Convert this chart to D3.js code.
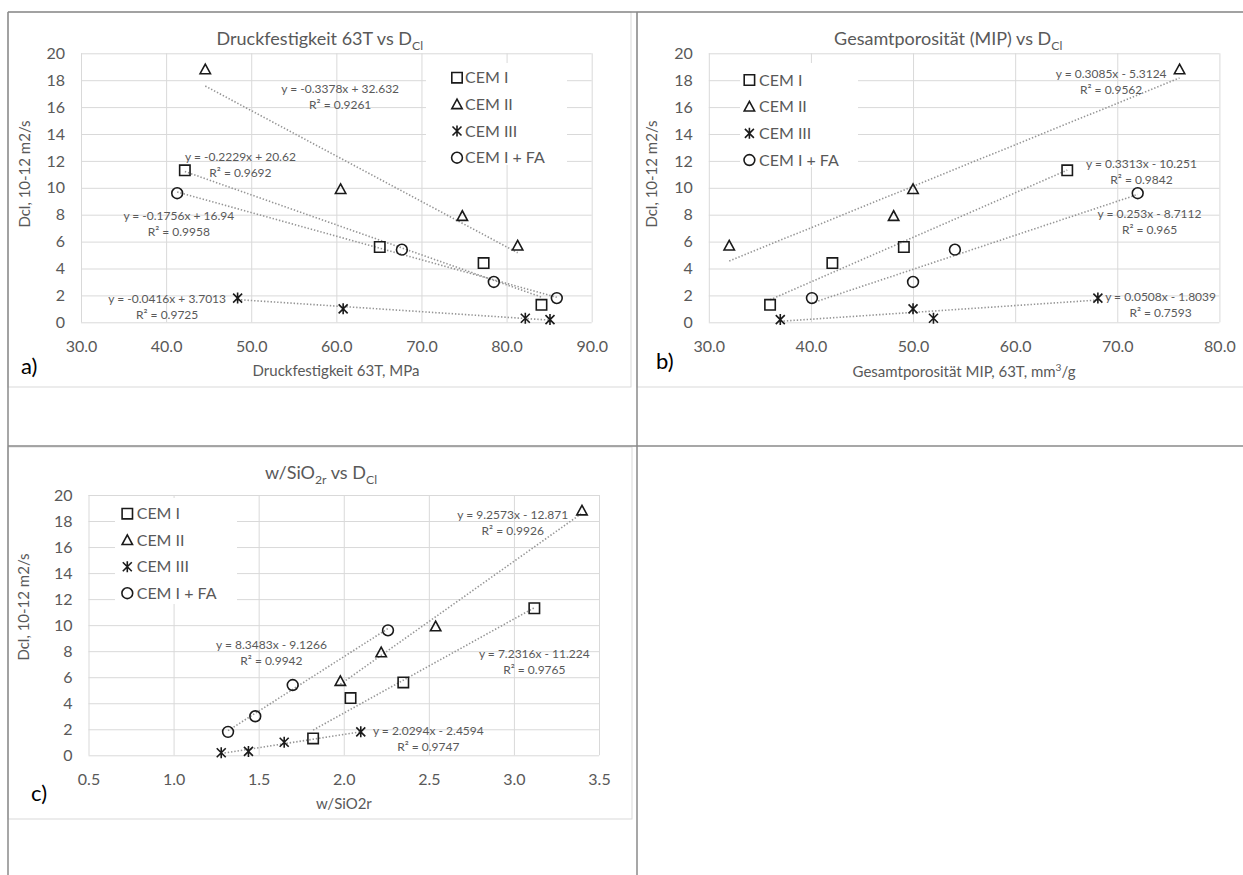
<!DOCTYPE html>
<html>
<head>
<meta charset="utf-8">
<script src="https://cdn.jsdelivr.net/npm/d3@7"></script>
<style>
  html, body { margin: 0; padding: 0; background: #fff; }
  svg { display: block; font-family: Lato, "Open Sans", sans-serif; }
</style>
</head>
<body>
<svg id="fig" width="1243" height="875"></svg>
<script>
// Series (cement types) and their marker shapes
const seriesNames = ["CEM I", "CEM II", "CEM III", "CEM I + FA"];
const seriesMarkers = ["square", "triangle", "star", "circle"];

// Chloride diffusion coefficient Dcl, 10^-12 m2/s
const dclCemI   = [11.3, 5.6, 4.4, 1.3];
const dclCemII  = [18.8, 9.9, 7.9, 5.7];
const dclCemIII = [1.8, 1.0, 0.3, 0.2];
const dclCemIFA = [9.6, 5.4, 3.0, 1.8];

// Compressive strength after 63 days, MPa
const strengthCemI   = [42.2, 65.1, 77.3, 84.1];
const strengthCemII  = [44.6, 60.5, 74.8, 81.3];
const strengthCemIII = [48.4, 60.8, 82.2, 85.1];
const strengthCemIFA = [41.3, 67.7, 78.5, 85.9];

// Total porosity (MIP) after 63 days, mm3/g
const porosityCemI   = [65.1, 49.1, 42.1, 36.0];
const porosityCemII  = [76.1, 50.0, 48.1, 32.0];
const porosityCemIII = [68.1, 50.0, 52.0, 37.0];
const porosityCemIFA = [72.0, 54.1, 50.0, 40.1];

// w/SiO2r ratio
const wSiCemI   = [3.12, 2.35, 2.04, 1.82];
const wSiCemII  = [3.40, 2.54, 2.22, 1.98];
const wSiCemIII = [2.10, 1.65, 1.44, 1.28];
const wSiCemIFA = [2.26, 1.70, 1.48, 1.32];

// Linear trend lines per series: slope, intercept, R²
const strengthSlopes     = [-0.2229, -0.3378, -0.0416, -0.1756];
const strengthIntercepts = [20.62, 32.632, 3.7013, 16.94];
const strengthR2         = [0.9692, 0.9261, 0.9725, 0.9958];
const porositySlopes     = [0.3313, 0.3085, 0.0508, 0.253];
const porosityIntercepts = [-10.251, -5.3124, -1.8039, -8.7112];
const porosityR2         = [0.9842, 0.9562, 0.7593, 0.965];
const wSiSlopes          = [7.2316, 9.2573, 2.0294, 8.3483];
const wSiIntercepts      = [-11.224, -12.871, -2.4594, -9.1266];
const wSiR2              = [0.9765, 0.9926, 0.9747, 0.9942];

// Axis ticks
const dclTicks      = [0, 2, 4, 6, 8, 10, 12, 14, 16, 18, 20];
const strengthTicks = [30, 40, 50, 60, 70, 80, 90];
const porosityTicks = [30, 40, 50, 60, 70, 80];
const wSiTicks      = [0.5, 1.0, 1.5, 2.0, 2.5, 3.0, 3.5];

const dclSeries = [dclCemI, dclCemII, dclCemIII, dclCemIFA];

const TEXT = "#595959";
const GRID = "#d9d9d9";
const TREND = "#959595";
const MARK = "#1a1a1a";

const panels = [
  {
    tag: "a)", tagPos: [21, 374],
    box: [8, 12, 623, 375],
    plot: { l: 81, r: 591.7, t: 53.3, b: 322.3 },
    xDomain: [30, 90], xTicks: strengthTicks,
    xs: [strengthCemI, strengthCemII, strengthCemIII, strengthCemIFA],
    slopes: strengthSlopes, intercepts: strengthIntercepts, r2: strengthR2,
    eqAt: [[48.73, 12.31], [60.45, 17.35], [40.12, 1.78], [41.49, 7.90]],
    title: [["Druckfestigkeit 63T vs D"], ["Cl", "sub"]], titlePos: [319.8, 39],
    xTitle: [["Druckfestigkeit 63T, MPa"]], xTitlePos: [336, 371],
    yTitlePos: [24.5, 174],
    legend: { x: 426, y: 63, w: 141, h: 102, mx: 457, tx: 465, y0: 77.7, dy: 26.67 }
  },
  {
    tag: "b)", tagPos: [656, 369],
    box: [637, 12, 640, 375],
    plot: { l: 708.8, r: 1219.4, t: 53.3, b: 322.3 },
    xDomain: [30, 80], xTicks: porosityTicks,
    xs: [porosityCemI, porosityCemII, porosityCemIII, porosityCemIFA],
    slopes: porositySlopes, intercepts: porosityIntercepts, r2: porosityR2,
    eqAt: [[72.37, 11.82], [69.40, 18.51], [74.24, 1.90], [73.16, 8.10]],
    title: [["Gesamtporosität (MIP) vs D"], ["Cl", "sub"]], titlePos: [948.2, 39.3],
    xTitle: [["Gesamtporosität MIP, 63T, mm"], ["3", "sup"], ["/g"]], xTitlePos: [964, 371.7],
    yTitlePos: [651.5, 174],
    legend: { x: 740, y: 63, w: 118, h: 104, mx: 749.4, tx: 759, y0: 80, dy: 26.67 }
  },
  {
    tag: "c)", tagPos: [31, 801],
    box: [8, 447, 624, 372],
    plot: { l: 88.5, r: 599, t: 495, b: 755.3 },
    xDomain: [0.5, 3.5], xTicks: wSiTicks,
    xs: [wSiCemI, wSiCemII, wSiCemIII, wSiCemIFA],
    slopes: wSiSlopes, intercepts: wSiIntercepts, r2: wSiR2,
    eqAt: [[3.12, 7.77], [2.993, 18.48], [2.497, 1.92], [1.575, 8.46]],
    title: [["w/SiO"], ["2r", "sub"], [" vs D"], ["Cl", "sub"]], titlePos: [321, 473.3],
    xTitle: [["w/SiO2r"]], xTitlePos: [343.9, 804.3],
    yTitlePos: [23.7, 607],
    legend: { x: 115, y: 498, w: 122, h: 106, mx: 127.3, tx: 136.7, y0: 513.7, dy: 26.5 }
  }
];

const svg = d3.select("#fig");

// Marker outlines centred on (0,0)
function markerPath(type) {
  switch (type) {
    case "square":   return "M-5.2,-5.2H5.2V5.2H-5.2Z";
    case "triangle": return "M0,-5.3L5.2,4.3H-5.2Z";
    case "star":     return "M-4.5,-4.5L4.5,4.5M-4.5,4.5L4.5,-4.5M0,-5.5V5.5";
    default:         return "M5.4,0A5.4,5.4 0 1,1 -5.4,0A5.4,5.4 0 1,1 5.4,0Z";
  }
}

// Text made of runs; "sub"/"sup" runs are shrunk and shifted
function richText(sel, runs, size) {
  runs.forEach(([t, mode]) => {
    const ts = sel.append("tspan").text(t);
    if (mode === "sub") ts.attr("font-size", size * 0.68).attr("dy", size * 0.28);
    else if (mode === "sup") ts.attr("font-size", size * 0.68).attr("dy", -size * 0.4);
    else ts.attr("dy", 0);
  });
  // reset baseline shift after the last shifted run
  let shift = 0;
  sel.selectAll("tspan").each(function (d, i) {
    const m = runs[i][1];
    const want = m === "sub" ? size * 0.28 : m === "sup" ? -size * 0.4 : 0;
    d3.select(this).attr("dy", want - shift);
    shift = want;
  });
}

const eqText = (m, b) => `y = ${m}x ${b < 0 ? "-" : "+"} ${Math.abs(b)}`;

panels.forEach(p => {
  const g = svg.append("g");
  const [bx, by, bw, bh] = p.box;
  g.append("rect").attr("x", bx).attr("y", by).attr("width", bw).attr("height", bh)
    .attr("fill", "#fff").attr("stroke", GRID).attr("stroke-width", 1);

  const x = d3.scaleLinear().domain(p.xDomain).range([p.plot.l, p.plot.r]);
  const y = d3.scaleLinear().domain([0, 20]).range([p.plot.b, p.plot.t]);

  // gridlines
  const gy = g.append("g").attr("transform", `translate(${p.plot.l},0)`)
    .call(d3.axisLeft(y).tickValues(dclTicks).tickSize(-(p.plot.r - p.plot.l)).tickFormat(""));
  const gx = g.append("g").attr("transform", `translate(0,${p.plot.b})`)
    .call(d3.axisBottom(x).tickValues(p.xTicks).tickSize(-(p.plot.b - p.plot.t)).tickFormat(""));
  [gx, gy].forEach(a => {
    a.select(".domain").remove();
    a.selectAll("line").attr("stroke", GRID).attr("stroke-width", 1);
  });

  // tick labels
  const ay = g.append("g").attr("transform", `translate(${p.plot.l},0)`)
    .call(d3.axisLeft(y).tickValues(dclTicks).tickSize(0).tickPadding(16).tickFormat(d3.format("d")));
  const ax = g.append("g").attr("transform", `translate(0,${p.plot.b})`)
    .call(d3.axisBottom(x).tickValues(p.xTicks).tickSize(0).tickPadding(18).tickFormat(d3.format(".1f")));
  [ax, ay].forEach(a => {
    a.select(".domain").remove();
    a.selectAll("text").attr("fill", TEXT).attr("font-size", 16).attr("font-family", "Lato, sans-serif");
  });

  // legend background hides the grid behind it
  const L = p.legend;
  g.append("rect").attr("x", L.x).attr("y", L.y).attr("width", L.w).attr("height", L.h).attr("fill", "#fff");

  // trend lines over each series' x range
  p.xs.forEach((xs, i) => {
    const [x0, x1] = d3.extent(xs);
    const f = v => p.slopes[i] * v + p.intercepts[i];
    g.append("line")
      .attr("x1", x(x0)).attr("y1", y(f(x0)))
      .attr("x2", x(x1)).attr("y2", y(f(x1)))
      .attr("stroke", TREND).attr("stroke-width", 1.6)
      .attr("stroke-dasharray", "1.4,1.9");
  });

  // data markers
  p.xs.forEach((xs, i) => {
    xs.forEach((xv, j) => {
      g.append("path").attr("d", markerPath(seriesMarkers[i]))
        .attr("transform", `translate(${x(xv)},${y(dclSeries[i][j])})`)
        .attr("fill", "none").attr("stroke", MARK).attr("stroke-width", 1.6);
    });
  });

  // trend equations
  p.eqAt.forEach(([ex, ey], i) => {
    const t = g.append("text").attr("text-anchor", "middle").attr("fill", TEXT).attr("font-size", 12);
    t.append("tspan").attr("x", x(ex)).attr("y", y(ey)).attr("dy", "0.35em").text(eqText(p.slopes[i], p.intercepts[i]));
    t.append("tspan").attr("x", x(ex)).attr("y", y(ey) + 16).attr("dy", "0.35em").text(`R² = ${p.r2[i]}`);
  });

  // legend entries
  seriesNames.forEach((name, i) => {
    const ly = L.y0 + i * L.dy;
    g.append("path").attr("d", markerPath(seriesMarkers[i]))
      .attr("transform", `translate(${L.mx},${ly})`)
      .attr("fill", "none").attr("stroke", MARK).attr("stroke-width", 1.6);
    g.append("text").attr("x", L.tx).attr("y", ly).attr("dy", "0.35em")
      .attr("fill", TEXT).attr("font-size", 16).text(name);
  });

  // titles
  const tt = g.append("text").attr("x", p.titlePos[0]).attr("y", p.titlePos[1] + 6)
    .attr("text-anchor", "middle").attr("fill", TEXT).attr("font-size", 18);
  richText(tt, p.title, 18);

  const xt = g.append("text").attr("x", p.xTitlePos[0]).attr("y", p.xTitlePos[1] + 5)
    .attr("text-anchor", "middle").attr("fill", TEXT).attr("font-size", 15);
  richText(xt, p.xTitle, 15);

  g.append("text")
    .attr("transform", `translate(${p.yTitlePos[0]},${p.yTitlePos[1]}) rotate(-90)`)
    .attr("text-anchor", "middle").attr("dy", "0.35em")
    .attr("fill", TEXT).attr("font-size", 15).text("Dcl, 10-12 m2/s");

  g.append("text").attr("x", p.tagPos[0]).attr("y", p.tagPos[1])
    .attr("fill", "#000").attr("font-size", 22).text(p.tag);
});

// document table rules around the figure cells
const RULE = "#8a8a8a";
[[8, 12, 1243, 12], [8, 12, 8, 875], [637, 12, 637, 875], [8, 446, 1243, 446]].forEach(([x1, y1, x2, y2]) => {
  svg.append("line").attr("x1", x1).attr("y1", y1).attr("x2", x2).attr("y2", y2)
    .attr("stroke", RULE).attr("stroke-width", 1.5);
});
</script>
</body>
</html>
